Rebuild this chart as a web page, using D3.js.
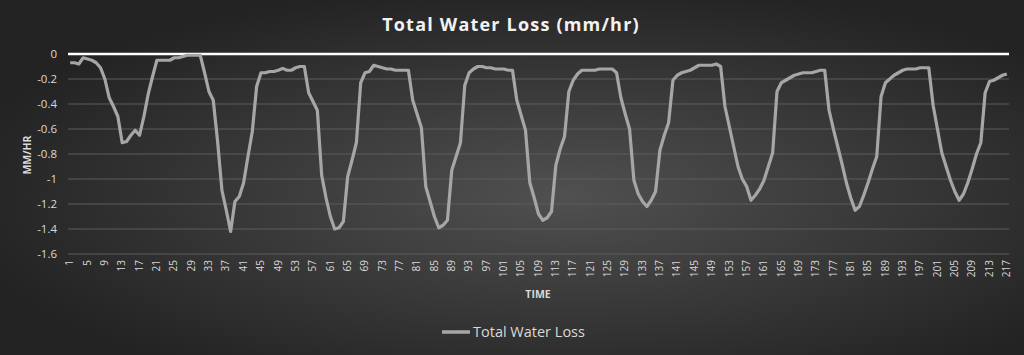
<!DOCTYPE html>
<html><head><meta charset="utf-8">
<script src="https://cdn.jsdelivr.net/npm/d3@7"></script>
<style>html,body{margin:0;padding:0;background:#333;}svg{display:block;}</style>
</head><body>
<svg id="chart" width="1024" height="355"></svg>
<script>
const chartTitle = "Total Water Loss (mm/hr)";
const seriesName = "Total Water Loss";
const yTicks = [0, -0.2, -0.4, -0.6, -0.8, -1, -1.2, -1.4, -1.6];
const values = [
-0.07,-0.07,-0.08,-0.03,-0.04,-0.05,-0.07,-0.11,-0.20,-0.35,
-0.42,-0.50,-0.71,-0.70,-0.65,-0.61,-0.65,-0.50,-0.32,-0.18,
-0.05,-0.05,-0.05,-0.05,-0.03,-0.03,-0.02,-0.01,-0.01,-0.01,
-0.01,-0.15,-0.30,-0.37,-0.70,-1.09,-1.25,-1.42,-1.18,-1.14,
-1.03,-0.82,-0.62,-0.26,-0.15,-0.15,-0.14,-0.14,-0.13,-0.115,
-0.13,-0.13,-0.11,-0.10,-0.10,-0.31,-0.38,-0.45,-0.97,-1.15,
-1.30,-1.40,-1.39,-1.34,-0.98,-0.85,-0.71,-0.23,-0.15,-0.14,
-0.09,-0.10,-0.11,-0.12,-0.12,-0.13,-0.13,-0.13,-0.13,-0.37,
-0.48,-0.59,-1.06,-1.18,-1.30,-1.39,-1.37,-1.33,-0.93,-0.82,
-0.71,-0.25,-0.15,-0.12,-0.10,-0.10,-0.11,-0.11,-0.12,-0.12,
-0.12,-0.13,-0.13,-0.37,-0.49,-0.61,-1.03,-1.15,-1.28,-1.33,
-1.31,-1.26,-0.89,-0.76,-0.66,-0.30,-0.21,-0.16,-0.13,-0.13,
-0.13,-0.13,-0.12,-0.12,-0.12,-0.12,-0.15,-0.35,-0.48,-0.60,
-1.01,-1.12,-1.18,-1.22,-1.17,-1.10,-0.77,-0.65,-0.55,-0.21,
-0.17,-0.15,-0.14,-0.13,-0.11,-0.09,-0.09,-0.09,-0.09,-0.08,
-0.10,-0.42,-0.58,-0.74,-0.90,-1.00,-1.06,-1.17,-1.13,-1.08,
-1.01,-0.90,-0.79,-0.30,-0.23,-0.21,-0.19,-0.17,-0.16,-0.15,
-0.15,-0.15,-0.14,-0.13,-0.13,-0.45,-0.60,-0.74,-0.88,-1.03,
-1.15,-1.25,-1.22,-1.13,-1.03,-0.92,-0.82,-0.34,-0.23,-0.20,
-0.17,-0.15,-0.13,-0.12,-0.12,-0.12,-0.11,-0.11,-0.11,-0.41,
-0.60,-0.79,-0.90,-1.01,-1.10,-1.17,-1.12,-1.03,-0.92,-0.80,
-0.71,-0.31,-0.22,-0.21,-0.19,-0.17,-0.16
];
const categories = values.map((_, i) => i + 1);
const xTickLabels = categories.filter(c => (c - 1) % 4 === 0);

const W = 1024, H = 355;
const plot = {left: 68, right: 1009, top: 54, bottom: 254};
const svg = d3.select("#chart");
const defs = svg.append("defs");
const grad = defs.append("radialGradient").attr("id","bg")
  .attr("cx","55%").attr("cy","55%").attr("r","60%");
grad.append("stop").attr("offset","0%").attr("stop-color","#505050");
grad.append("stop").attr("offset","100%").attr("stop-color","#232323");
svg.append("rect").attr("width",W).attr("height",H).attr("fill","url(#bg)");

const x = d3.scaleBand().domain(categories).range([plot.left, plot.right]);
const y = d3.scaleLinear().domain([-1.6, 0]).range([plot.bottom, plot.top]);
const font = "'Open Sans', 'Liberation Sans', sans-serif";

// gridlines
svg.append("g").selectAll("line").data(yTicks.filter(t => t !== 0)).join("line")
  .attr("x1", plot.left).attr("x2", plot.right)
  .attr("y1", d => y(d)).attr("y2", d => y(d))
  .attr("stroke", "#5c5c5c").attr("stroke-width", 1);

// y axis labels
const yAxis = d3.axisLeft(y).tickValues(yTicks).tickSize(0).tickPadding(0)
  .tickFormat(d => String(+d.toFixed(1)));
const ga = svg.append("g").attr("transform", `translate(${plot.left - 11},0)`).call(yAxis);
ga.select(".domain").remove();
ga.selectAll("text").attr("fill","#d9d9d9").style("font-family",font).style("font-size","11.5px");

// x axis labels
const xAxis = d3.axisBottom(x).tickValues(xTickLabels).tickSize(0).tickPadding(0);
const gx = svg.append("g").attr("transform", `translate(0,${plot.bottom + 6})`).call(xAxis);
gx.select(".domain").remove();
gx.selectAll("text").attr("fill","#d9d9d9").style("font-family",font).style("font-size","10px")
  .attr("text-anchor","end").attr("dy","0.32em").attr("y",0).attr("x",0)
  .attr("transform","rotate(-90)");

// zero line
svg.append("line").attr("x1", plot.left).attr("x2", plot.right)
  .attr("y1", y(0)).attr("y2", y(0)).attr("stroke","#ffffff").attr("stroke-width",2.5);

// series line
const line = d3.line().x((d,i) => x(categories[i]) + x.bandwidth()/2).y(d => y(d));
svg.append("path").datum(values).attr("d", line).attr("fill","none")
  .attr("stroke","#a6a6a6").attr("stroke-width",3.2).attr("stroke-linejoin","round");

// title
svg.append("text").attr("x", 511).attr("y", 31).attr("text-anchor","middle")
  .attr("fill","#f2f2f2").style("font-family",font).style("font-weight","bold")
  .style("font-size","18px").style("letter-spacing","1.2px").text(chartTitle);

// axis titles
svg.append("text").attr("transform","translate(31,155) rotate(-90)").attr("text-anchor","middle")
  .attr("fill","#d9d9d9").style("font-family",font).style("font-weight","bold").style("font-size","10.5px")
  .text("MM/HR");
svg.append("text").attr("x", 538).attr("y", 298).attr("text-anchor","middle")
  .attr("fill","#d9d9d9").style("font-family",font).style("font-weight","bold").style("font-size","10.5px")
  .text("TIME");

// legend
svg.append("line").attr("x1",442).attr("x2",470).attr("y1",332).attr("y2",332)
  .attr("stroke","#a6a6a6").attr("stroke-width",3.5);
svg.append("text").attr("x",473).attr("y",332).attr("dy","0.35em")
  .attr("fill","#d9d9d9").style("font-family",font).style("font-size","14.5px").text(seriesName);
</script>
</body></html>
